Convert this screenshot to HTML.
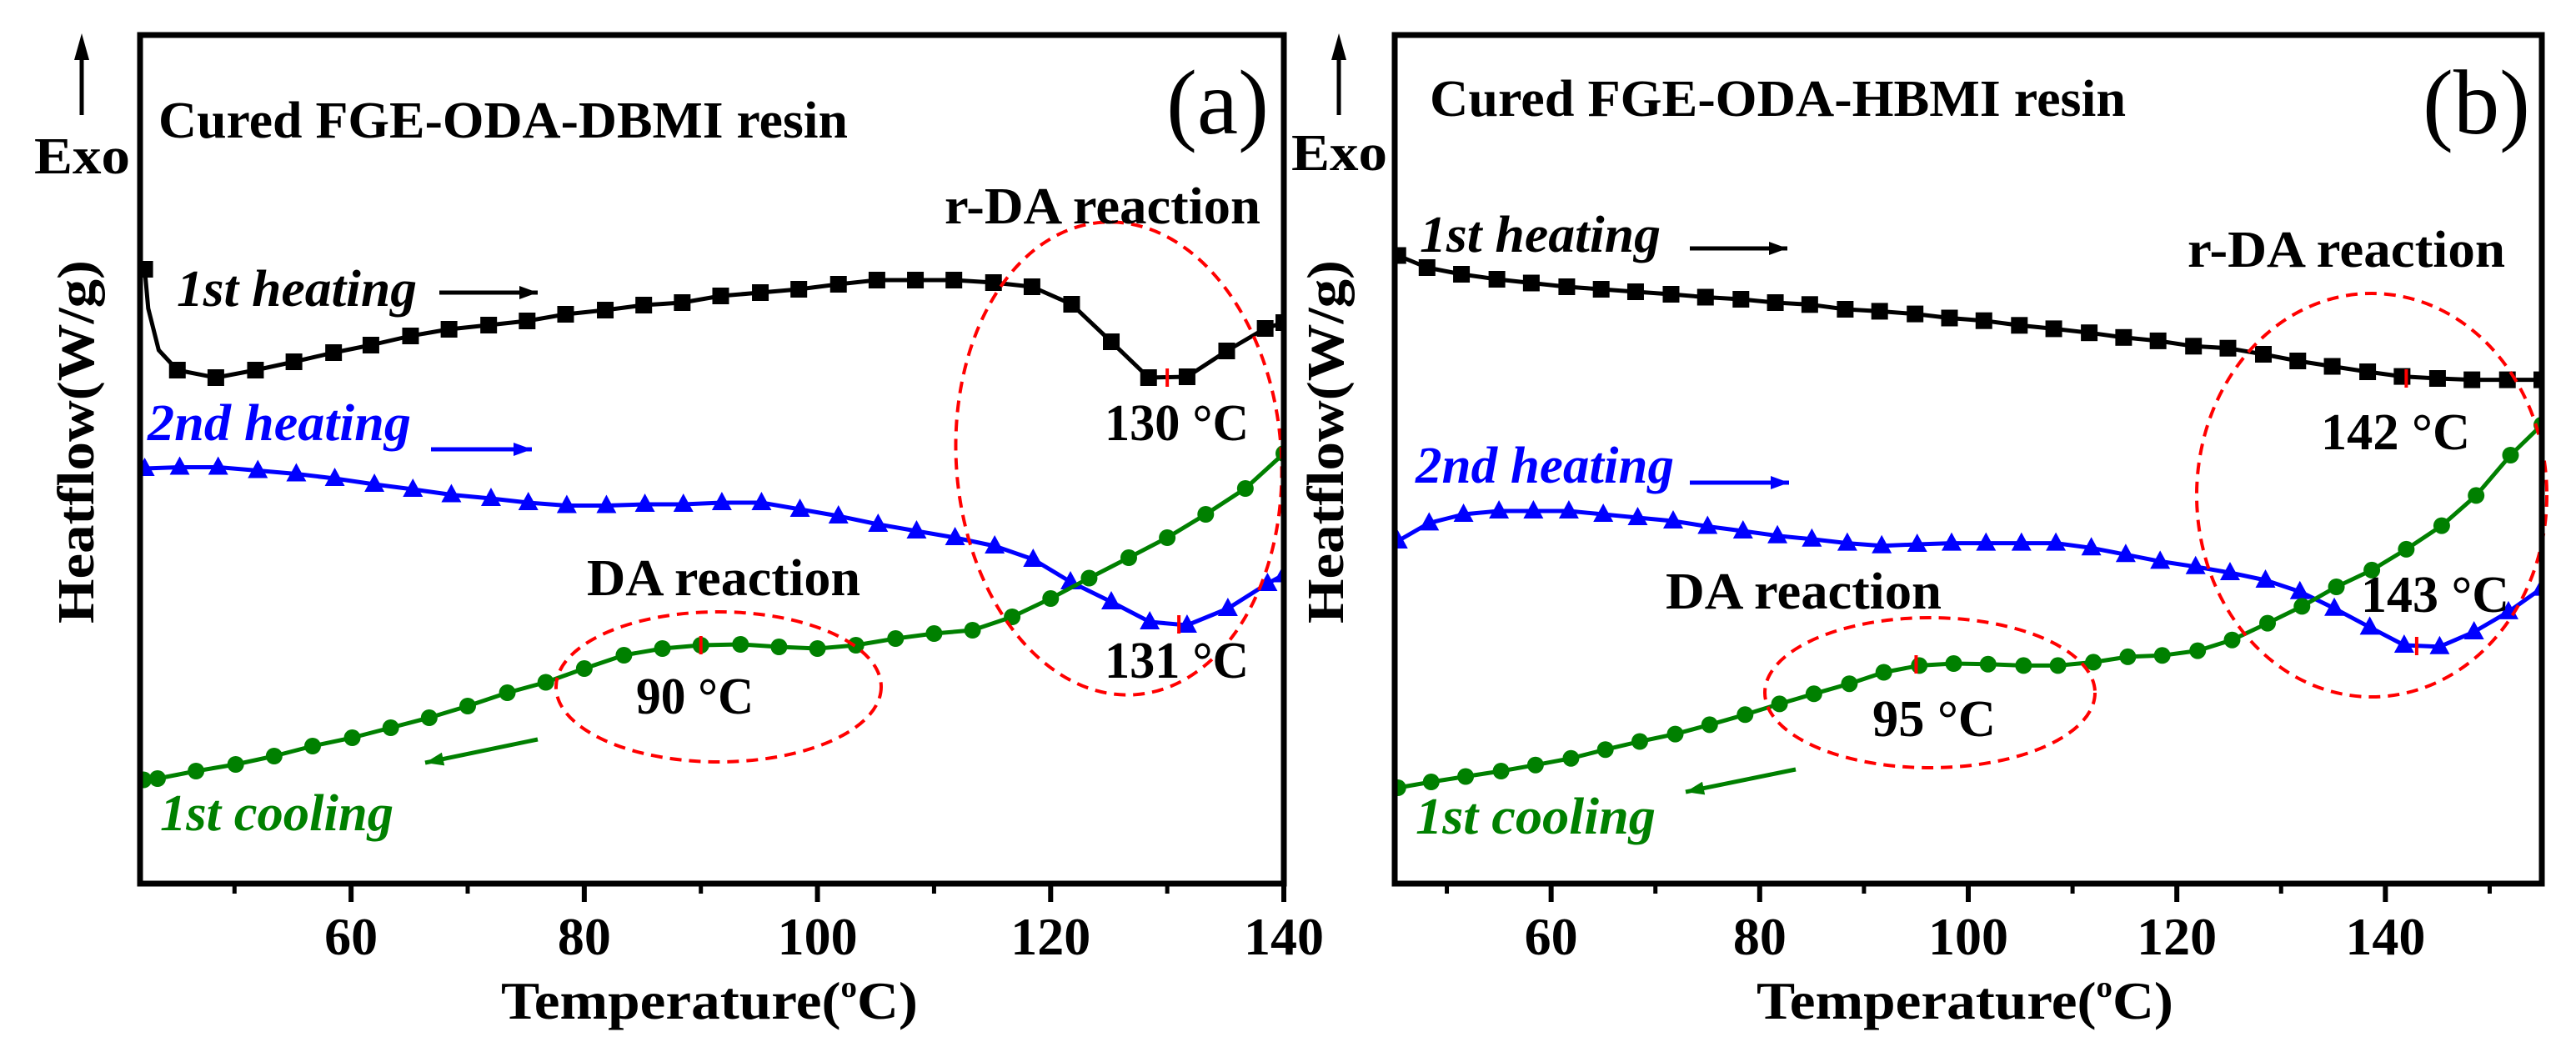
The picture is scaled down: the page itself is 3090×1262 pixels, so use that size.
<!DOCTYPE html>
<html><head><meta charset="utf-8"><style>
html,body{margin:0;padding:0;background:#fff;}
svg{display:block;font-family:"Liberation Serif",serif;}
</style></head><body>
<svg id="chart" width="3090" height="1262" viewBox="0 0 3090 1262" xmlns="http://www.w3.org/2000/svg"></svg>
<script>
// ---------- Panel (a) data ----------
const aHeat1T = [42.3,42.6,43.5,45.1,48.4,51.8,55.1,58.5,61.7,65.1,68.4,71.8,75.1,78.4,81.8,85.1,88.4,91.7,95.1,98.4,101.8,105.1,108.4,111.7,115.1,118.4,121.8,125.2,128.4,131.7,135.1,138.4,140];
const aHeat1V = [737,690,640,616,607,616,626,637,646,657,665,670,675,683,688,694,697,705,709,713,719,724,724,724,721,716,695,650,607,608,639,666,673];
const aHeat2T = [42.3,45.3,48.6,52.0,55.3,58.6,62.0,65.3,68.6,72.0,75.2,78.5,81.9,85.2,88.5,91.8,95.2,98.5,101.8,105.2,108.5,111.8,115.2,118.5,121.7,125.2,128.5,131.7,135.2,138.6,140];
const aHeat2V = [498,499.5,499.5,495.5,491.5,486,479,473,466.5,462,457,453.5,453.5,455,455,457,457,449,441,431,423,415,405,389,362,338,314,310,330,360,370.5];
const aCoolT = [42.2,43.4,46.7,50.1,53.4,56.7,60.1,63.4,66.7,70.0,73.4,76.7,80.0,83.4,86.7,90.0,93.4,96.7,100.0,103.3,106.7,110.0,113.3,116.7,120.0,123.3,126.7,130.0,133.3,136.7,140.0];
const aCoolV = [124.5,126,135,143,153,165,175,187,199,213,229,241.5,258,274,282,286,287,284,282,286,294,300,304,320,342,366.5,391,415,443,474,516];
const aPeakT = [130,131,90];
const aPeakV = [607,311,286];
const aTicks = [60,80,100,120,140];
const aMinor = [50,70,90,110,130];

// ---------- Panel (b) data ----------
const bHeat1T = [45.3,48.1,51.4,54.8,58.1,61.5,64.8,68.1,71.5,74.8,78.2,81.5,84.8,88.2,91.5,94.9,98.2,101.5,104.9,108.2,111.6,114.9,118.2,121.6,124.9,128.3,131.6,134.9,138.3,141.6,145.0,148.3,151.7,155.0];
const bHeat1V = [753.5,739,731,725,720.5,716,713,710,707,703.5,701,697,694.7,689,686.6,683.4,678.5,675.3,669.7,665.6,660.8,655.2,651.1,644.7,642.3,635,627,620.5,614,608.4,606,604.4,604.4,604.4];
const bHeat2T = [45.3,48.3,51.6,55.0,58.3,61.7,65.0,68.3,71.7,75.0,78.4,81.7,85.0,88.4,91.7,95.1,98.4,101.7,105.1,108.4,111.8,115.1,118.4,121.8,125.1,128.5,131.8,135.1,138.5,141.8,145.2,148.5,151.8,155.0];
const bHeat2V = [411,432.6,443,447,447,447,443,439,435,428.5,423,417.3,413.2,408.4,405.2,407,408.4,408.4,408.4,408.4,402.7,394.7,386.6,380.2,373,364,350.3,330.2,307.6,286,284.2,302,326.1,354.4];
const bCoolT = [45.3,48.5,51.8,55.2,58.5,61.9,65.2,68.5,71.9,75.2,78.6,81.9,85.2,88.6,91.9,95.3,98.6,101.9,105.3,108.6,112.0,115.3,118.6,122.0,125.3,128.7,132.0,135.3,138.7,142.0,145.4,148.7,152.0,155.0];
const bCoolV = [115,122,128.5,135,142.3,150.3,160.8,170.5,179.4,190.6,202.7,215.6,227.7,239.8,253.5,261.6,264,263.2,261.6,261.6,265.6,272.1,273.7,279.4,292.3,312.4,332.6,356,376.1,401.1,429.4,465.6,514,550.3];
const bPeakT = [142,143,95];
const bPeakV = [606,285,263];
const bTicks = [60,80,100,120,140];
const bMinor = [50,70,90,110,130,150];

const NS = "http://www.w3.org/2000/svg";
const svg = document.getElementById('chart');
function el(tag, attrs, parent, txt){
  const e = document.createElementNS(NS, tag);
  for (const k in attrs) e.setAttribute(k, attrs[k]);
  if (txt !== undefined) e.textContent = txt;
  (parent || svg).appendChild(e);
  return e;
}
function txt(parent, x, y, s, size, opts){
  opts = opts || {};
  const t = el('text', {x:x, y:y, 'font-size':size, 'font-weight':opts.w||'bold',
    'font-style':opts.it?'italic':'normal', fill:opts.fill||'#000',
    'text-anchor':opts.anchor||'start'}, parent, s);
  if (opts.len){ t.setAttribute('textLength', opts.len); t.setAttribute('lengthAdjust','spacingAndGlyphs'); }
  if (opts.rot) t.setAttribute('transform', opts.rot);
  return t;
}
function arrow(parent, x1, y1, x2, y2, color, w){
  el('line',{x1:x1,y1:y1,x2:x2,y2:y2,stroke:color,'stroke-width':w||5}, parent);
  const ang = Math.atan2(y2-y1, x2-x1), L=22, H=8;
  const p = [[x2,y2],[x2-L*Math.cos(ang)+H*Math.sin(ang), y2-L*Math.sin(ang)-H*Math.cos(ang)],
             [x2-L*Math.cos(ang)-H*Math.sin(ang), y2-L*Math.sin(ang)+H*Math.cos(ang)]];
  el('polygon',{points:p.map(q=>q.join(',')).join(' '), fill:color}, parent);
}

function drawPanel(cfg){
  const g = el('g', {});
  
  
  const L=cfg.left, R=cfg.right, T=42, B=1060;
  const xs = v => L + (v - cfg.xmin)/(cfg.xmax - cfg.xmin)*(R-L);
  const ys = v => B - (v - 0)/(1018 - 0)*(B-T);

  const cid = 'clip'+cfg.id;
  const cp = el('clipPath',{id:cid}, g);
  el('rect',{x:L,y:T,width:R-L,height:B-T}, cp);
  const plot = el('g',{'clip-path':'url(#'+cid+')'}, g);

  function series(Ts, Vs, color, shape, name, skip){
    const sg = el('g',{}, plot);
    
    
    const pts = Ts.map((t,i)=>xs(t).toFixed(1)+','+ys(Vs[i]).toFixed(1)).join(' ');
    const pl = el('polyline',{points:pts, fill:'none', stroke:color, 'stroke-width':5, 'stroke-linejoin':'round'}, sg);
    
    
    Ts.forEach((t,i)=>{
      if (skip && skip.indexOf(i) >= 0) return;
      const x = xs(t), y = ys(Vs[i]);
      let m;
      if (shape==='sq') m = el('rect',{x:x-10,y:y-10,width:20,height:20,fill:color}, sg);
      else if (shape==='tri') m = el('polygon',{points:`${x},${y-13} ${x-12},${y+9} ${x+12},${y+9}`,fill:color}, sg);
      else m = el('circle',{cx:x,cy:y,r:10,fill:color}, sg);
      
      
    });
  }
  series(cfg.h1T, cfg.h1V, '#000', 'sq', 'first-heating-series', cfg.skip1);
  series(cfg.h2T, cfg.h2V, '#0000ff', 'tri', 'second-heating-series');
  series(cfg.cT, cfg.cV, '#008000', 'circ', 'first-cooling-series');

  cfg.pT.forEach((t,i)=>{
    const x = xs(t), y = ys(cfg.pV[i]);
    const m = el('line',{x1:x,y1:y-11,x2:x,y2:y+11,stroke:'#ff0000','stroke-width':4}, g);
    
    
  });

  cfg.ellipses.forEach(e=>{
    const m = el('ellipse',{cx:e[0],cy:e[1],rx:e[2],ry:e[3],fill:'none',stroke:'#ff0000','stroke-width':4,'stroke-dasharray':'14,9',transform:`rotate(${e[4]||0} ${e[0]} ${e[1]})`}, g);
    
    
  });

  const fr = el('rect',{x:L,y:T,width:R-L,height:B-T,fill:'none',stroke:'#000','stroke-width':7}, g);
  
  

  cfg.ticks.forEach(t=>{
    const x = xs(t);
    el('line',{x1:x,y1:B,x2:x,y2:B+22,stroke:'#000','stroke-width':6}, g);
    const lb = txt(g, x, 1145, String(t), 64, {anchor:'middle'});
    
    
  });
  cfg.minor.forEach(t=>{
    const x = xs(t);
    el('line',{x1:x,y1:B,x2:x,y2:B+12,stroke:'#000','stroke-width':5}, g);
  });

  const xt = el('text',{x:cfg.xtX,y:1222,'font-size':64,'font-weight':'bold','text-anchor':'start',textLength:500,lengthAdjust:'spacingAndGlyphs'}, g);
  
  
  xt.appendChild(document.createTextNode('Temperature('));
  el('tspan',{'font-size':36,dy:-26}, xt, 'o');
  el('tspan',{dy:26}, xt, 'C)');

  const yt = txt(g, 0, 0, 'Heatflow(W/g)', 62, {anchor:'middle', len:436,
    rot:`translate(${cfg.ytX},${530}) rotate(-90)`});
  
  

  const ea = el('g',{}, g);
  
  
  el('line',{x1:cfg.exoX,y1:62,x2:cfg.exoX,y2:138,stroke:'#000','stroke-width':5}, ea);
  el('polygon',{points:`${cfg.exoX},40 ${cfg.exoX-9},72 ${cfg.exoX+9},72`,fill:'#000'}, ea);
  const ex = txt(g, cfg.exoTX, cfg.exoTY, 'Exo', 62, {len:115});
  
  

  cfg.labels.forEach(l=>{
    const t = txt(g, l.x, l.y, l.s, l.size||62, {len:l.len, it:l.it, fill:l.fill, w:l.w});
    
    
  });
  cfg.arrows.forEach(a=>{
    const ag = el('g',{}, g);
    
    
    arrow(ag, a[0],a[1],a[2],a[3],a[4]);
  });
}

drawPanel({id:'a', name:'panel-a', left:168, right:1540, xmin:41.9, xmax:140,
  h1T:aHeat1T, h1V:aHeat1V, h2T:aHeat2T, h2V:aHeat2V, cT:aCoolT, cV:aCoolV, pT:aPeakT, pV:aPeakV,
  skip1:[1,2],
  ticks:aTicks, minor:aMinor, xtX:601, ytX:112, exoX:98, exoTX:41, exoTY:208,
  ellipses:[[1342,550,195,284,-4,'rda-ellipse'],[862,824,195,90,0,'da-ellipse']],
  labels:[
    {x:190,y:165,s:'Cured FGE-ODA-DBMI resin',len:827,name:'panel-title'},
    {x:1399,y:160,s:'(a)',size:110,len:123,w:'normal',name:'panel-letter'},
    {x:1133,y:268,s:'r-DA reaction',len:379,name:'rda-label'},
    {x:212,y:367,s:'1st heating',len:288,it:true,name:'first-heating-label'},
    {x:177,y:528,s:'2nd heating',len:316,it:true,fill:'#0000ff',name:'second-heating-label'},
    {x:192,y:996,s:'1st cooling',len:280,it:true,fill:'#008000',name:'first-cooling-label'},
    {x:704,y:714,s:'DA reaction',len:328,name:'da-label'},
    {x:763,y:856,s:'90 °C',len:141,name:'da-peak-label'},
    {x:1325,y:528,s:'130 °C',len:173,name:'rda-peak-label-1'},
    {x:1325,y:813,s:'131 °C',len:173,name:'rda-peak-label-2'}
  ],
  arrows:[[527,351,645,351,'#000','heating-arrow-1'],[517,539,638,539,'#0000ff','heating-arrow-2'],[645,887,510,915,'#008000','cooling-arrow']]
});

drawPanel({id:'b', name:'panel-b', left:1673, right:3049, xmin:45, xmax:155,
  h1T:bHeat1T, h1V:bHeat1V, h2T:bHeat2T, h2V:bHeat2V, cT:bCoolT, cV:bCoolV, pT:bPeakT, pV:bPeakV,
  skip1:[],
  ticks:bTicks, minor:bMinor, xtX:2107, ytX:1611, exoX:1606, exoTX:1549, exoTY:204,
  ellipses:[[2845,594,210,242,0,'rda-ellipse'],[2315,831,198,90,0,'da-ellipse']],
  labels:[
    {x:1715,y:139,s:'Cured FGE-ODA-HBMI resin',len:835,name:'panel-title'},
    {x:2906,y:160,s:'(b)',size:110,len:129,w:'normal',name:'panel-letter'},
    {x:2624,y:320,s:'r-DA reaction',len:381,name:'rda-label'},
    {x:1703,y:302,s:'1st heating',len:289,it:true,name:'first-heating-label'},
    {x:1698,y:579,s:'2nd heating',len:310,it:true,fill:'#0000ff',name:'second-heating-label'},
    {x:1698,y:1000,s:'1st cooling',len:288,it:true,fill:'#008000',name:'first-cooling-label'},
    {x:1998,y:730,s:'DA reaction',len:331,name:'da-label'},
    {x:2246,y:883,s:'95 °C',len:148,name:'da-peak-label'},
    {x:2784,y:539,s:'142 °C',len:179,name:'rda-peak-label-1'},
    {x:2832,y:734,s:'143 °C',len:178,name:'rda-peak-label-2'}
  ],
  arrows:[[2027,298,2144,298,'#000','heating-arrow-1'],[2027,579,2146,579,'#0000ff','heating-arrow-2'],[2154,923,2022,950,'#008000','cooling-arrow']]
});
</script>
</body></html>
